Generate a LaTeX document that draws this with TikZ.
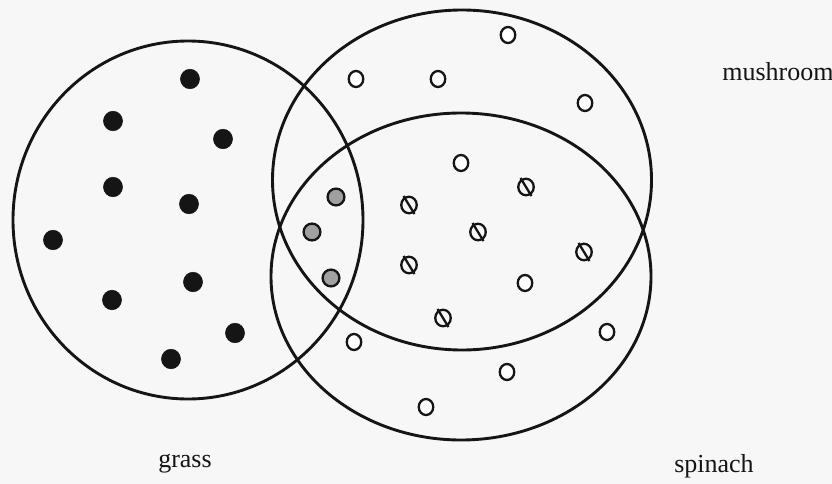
\documentclass[tikz,border=0pt]{standalone}
\usepackage{fontspec}
\setmainfont{Liberation Serif}
\usetikzlibrary{shapes.geometric}
\definecolor{bg}{HTML}{F7F7F7}
\definecolor{ink}{HTML}{151515}
\definecolor{greyfill}{HTML}{A0A0A0}
\begin{document}
\begin{tikzpicture}[x=1pt,y=-1pt,
  setring/.style={draw=ink,line width=2.9pt,ellipse,inner sep=0pt},
  blackdot/.style={ellipse,fill=ink,draw=ink,line width=0.6pt,minimum width=19pt,minimum height=19.5pt,inner sep=0pt},
  opendot/.style={ellipse,draw=ink,fill=white,line width=2.3pt,minimum width=14.5pt,minimum height=16pt,inner sep=0pt},
  greydot/.style={circle,draw=ink,fill=greyfill,line width=2.3pt,minimum size=16.8pt,inner sep=0pt},
  hatchdot/.style={ellipse,draw=ink,line width=2.3pt,minimum width=15.5pt,minimum height=16.5pt,inner sep=0pt},
  slash/.style={draw=ink,line width=2.3pt},
  lab/.style={font=\fontsize{26}{30}\selectfont,text=ink,inner sep=0pt}
]
\fill[bg] (0,0) rectangle (832,484);
\useasboundingbox (0,0) rectangle (832,484);

% the three sets
\node[setring,minimum width=350pt,minimum height=358pt] (grass) at (188,220) {};
\node[setring,minimum width=379pt,minimum height=340pt] (mushroom) at (462,180) {};
\node[setring,minimum width=380pt,minimum height=327pt] (spinach) at (461,276.5) {};

% black dots (grass only)
\foreach \n/\p in {b1/{190,79},b2/{113,121},b3/{223,139},b4/{113,187},b5/{189,204},
                   b6/{53,240},b7/{193,282},b8/{112,300},b9/{235,333},b10/{171,359}}
  \node[blackdot] (\n) at (\p) {};

% grey dots (all three)
\foreach \n/\p in {g1/{336,197},g2/{312,232},g3/{331,278}}
  \node[greydot] (\n) at (\p) {};

% open dots
\foreach \n/\p in {o1/{508,35},o2/{356,79},o3/{438,79},o4/{585,103},o5/{461,163},
                   o6/{525,283},o7/{354,342},o8/{607,332},o9/{507,372},o10/{426,407}}
  \node[opendot] (\n) at (\p) {};

% hatched dots (mushroom and spinach)
\foreach \n/\p in {h1/{526,187},h2/{409,205},h3/{478,232},h4/{584,252},h5/{409,265},h6/{443,318}}{
  \node[hatchdot] (\n) at (\p) {};
  \draw[slash] ([shift={(-5.5,-9)}]\n.center) -- ([shift={(5.5,9)}]\n.center);
}

% labels
\node[lab] (lmush) at (778,72) {mushroom};
\node[lab] (lgrass) at (185,464) {grass};
\node[lab] (lspin) at (714,466) {spinach};
\end{tikzpicture}
\end{document}
